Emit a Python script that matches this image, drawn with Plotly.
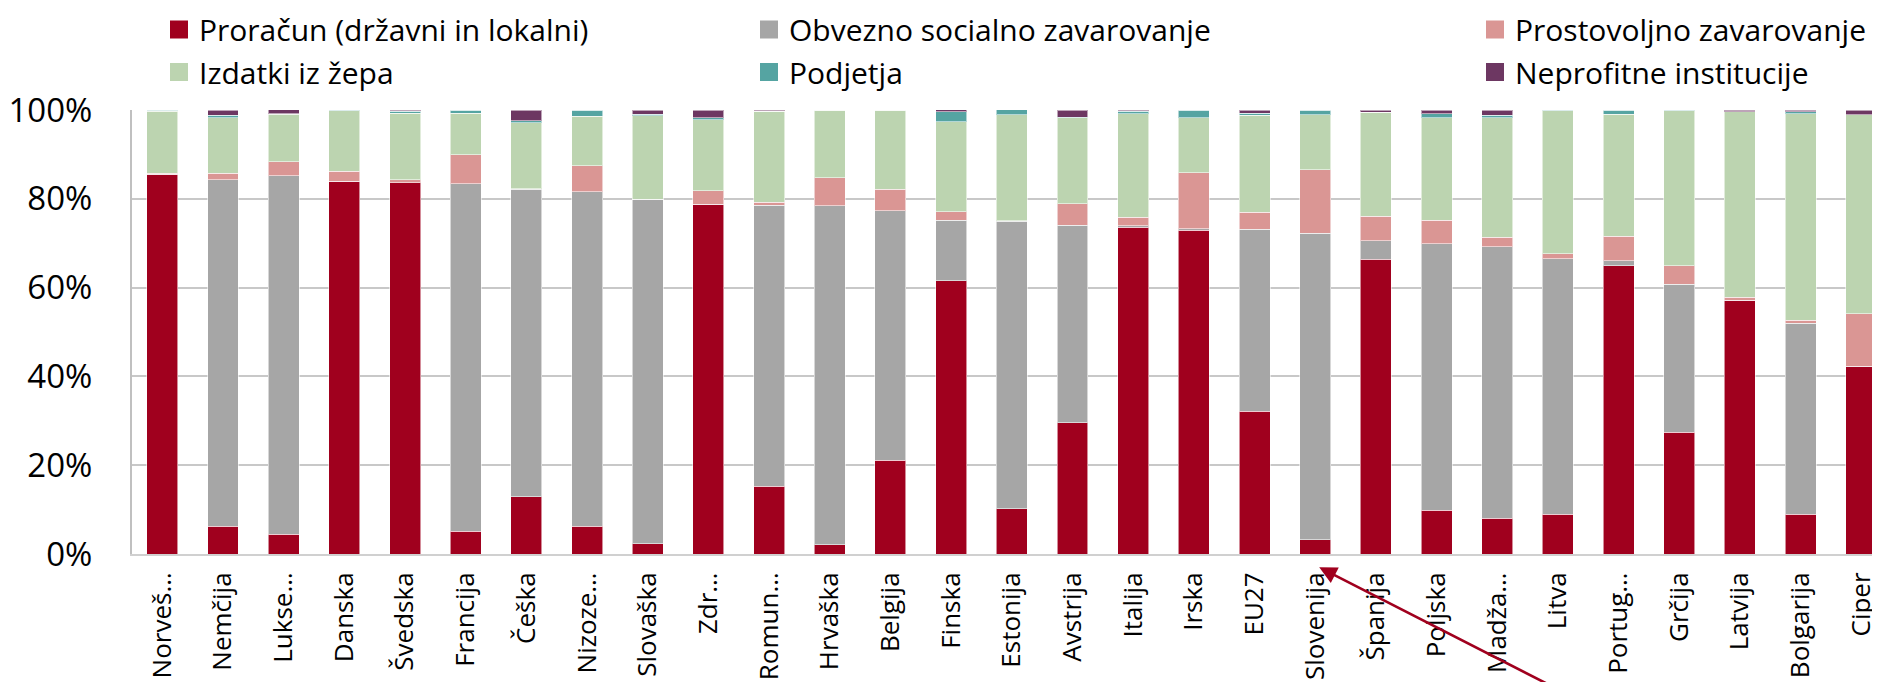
import plotly.graph_objects as go

countries = ["Norveška", "Nemčija", "Luksemburg", "Danska", "Švedska", "Francija", "Češka",
             "Nizozemska", "Slovaška", "Združeno kraljestvo", "Romunija", "Hrvaška", "Belgija",
             "Finska", "Estonija", "Avstrija", "Italija", "Irska", "EU27", "Slovenija", "Španija",
             "Poljska", "Madžarska", "Litva", "Portugalska", "Grčija", "Latvija", "Bolgarija", "Ciper"]

tick_labels = ["Norveš…", "Nemčija", "Lukse…", "Danska", "Švedska", "Francija", "Češka",
               "Nizoze…", "Slovaška", "Zdr…", "Romun…", "Hrvaška", "Belgija",
               "Finska", "Estonija", "Avstrija", "Italija", "Irska", "EU27", "Slovenija", "Španija",
               "Poljska", "Madža…", "Litva", "Portug…", "Grčija", "Latvija", "Bolgarija", "Ciper"]

proracun = [85.5, 6.2, 4.5, 84.0, 83.6, 5.1, 12.9, 6.2, 2.3, 78.8, 15.3, 2.1, 21.1, 61.5, 10.2,
            29.6, 73.6, 72.9, 32.1, 3.2, 66.4, 9.8, 8.0, 8.9, 64.9, 27.4, 57.2, 9.0, 42.3]
obvezno = [0.0, 78.1, 80.7, 0.0, 0.0, 78.3, 69.2, 75.4, 77.6, 0.0, 63.3, 76.3, 56.2, 13.7, 64.7,
           44.4, 0.3, 0.4, 41.0, 69.0, 4.2, 60.1, 61.2, 57.6, 1.2, 33.4, 0.0, 43.0, 0.0]
prostovoljno = [0.2, 1.5, 3.1, 2.2, 0.7, 6.5, 0.2, 5.8, 0.0, 3.0, 0.6, 6.3, 4.9, 1.9, 0.2,
                4.9, 1.9, 12.6, 3.9, 14.3, 5.5, 5.3, 2.1, 1.1, 5.5, 4.1, 0.6, 0.6, 11.8]
izdatki = [14.0, 12.4, 10.8, 13.6, 15.0, 9.4, 14.8, 11.2, 18.8, 16.0, 20.5, 15.3, 17.8, 20.2, 23.8,
           19.3, 23.4, 12.4, 21.8, 12.4, 23.4, 23.0, 26.9, 32.2, 27.5, 34.9, 41.8, 46.6, 44.8]
podjetja = [0.3, 0.6, 0.1, 0.1, 0.4, 0.7, 0.5, 1.4, 0.4, 0.5, 0.0, 0.0, 0.0, 2.3, 1.3,
            0.2, 0.5, 1.7, 0.5, 1.0, 0.0, 1.0, 0.6, 0.2, 0.9, 0.2, 0.0, 0.4, 0.0]
neprofitne = [0.0, 1.2, 0.9, 0.1, 0.3, 0.0, 2.4, 0.0, 0.8, 1.7, 0.3, 0.0, 0.0, 0.5, 0.0,
              1.6, 0.3, 0.0, 0.6, 0.0, 0.5, 0.8, 1.2, 0.0, 0.0, 0.0, 0.4, 0.4, 1.1]

series_names = ["Proračun (državni in lokalni)", "Obvezno socialno zavarovanje",
                "Prostovoljno zavarovanje", "Izdatki iz žepa", "Podjetja", "Neprofitne institucije"]
series_values = [proracun, obvezno, prostovoljno, izdatki, podjetja, neprofitne]
series_colors = ["#A0001E", "#A6A6A6", "#DA9694", "#BCD4B0", "#55A4A2", "#6D3762"]

FONT = "Open Sans"
W, H = 1880, 682
legend_ids = ["legend", "legend2", "legend3", "legend4", "legend5", "legend6"]
legend_px = [(151, 21.5), (741, 21.5), (1467, 21.5), (151, 64), (741, 64), (1467, 64)]

fig = go.Figure()
for i, (name, vals, col, lid) in enumerate(zip(series_names, series_values, series_colors, legend_ids)):
    fig.add_trace(go.Bar(
        x=countries, y=vals, name=name, legendgroup=f"g{i}", showlegend=False,
        marker=dict(color=col, line=dict(color="rgba(255,255,255,0.55)", width=1)),
    ))
    # legend entry (square key) for the same series
    fig.add_trace(go.Scatter(
        x=[None], y=[None], mode="markers", name=name, legendgroup=f"g{i}", legend=lid,
        marker=dict(symbol="square", size=16, color=col, line=dict(color=col, width=2)),
        showlegend=True, hoverinfo="skip",
    ))

legend_layout = {}
for lid, (px, py) in zip(legend_ids, legend_px):
    legend_layout[lid] = dict(
        x=px / W, y=1 - py / H, xref="container", yref="container",
        xanchor="left", yanchor="middle", bgcolor="rgba(0,0,0,0)",
        font=dict(family=FONT, size=30, color="#000000"), traceorder="normal",
        itemsizing="trace",
    )

fig.update_layout(
    barmode="stack",
    bargap=0.49,
    width=W, height=H,
    margin=dict(l=124, r=0, t=102, b=136, autoexpand=False),
    paper_bgcolor="white", plot_bgcolor="white",
    font=dict(family=FONT, color="#000000"),
    showlegend=True,
    **legend_layout,
)

fig.update_xaxes(
    categoryorder="array", categoryarray=countries,
    tickmode="array", tickvals=countries, ticktext=tick_labels,
    tickangle=-90, tickfont=dict(family=FONT, size=26, color="#000000"),
    range=[-0.5, 28.44], showgrid=False, showline=True, linecolor="#D0D0D0", linewidth=2,
    ticks="", automargin=False, ticklabelstandoff=6,
)
fig.update_yaxes(
    range=[0, 100], dtick=20, ticksuffix="%", tickfont=dict(family=FONT, size=33, color="#000000"),
    showgrid=True, gridcolor="#C8C8C8", gridwidth=2, zeroline=False,
    showline=True, linecolor="#C0C0C0", linewidth=2, ticks="", automargin=False,
    ticklabelstandoff=31,
)

fig.add_annotation(
    x="Slovenija", xref="x", y=-0.03, yref="paper", xshift=4,
    text="", showarrow=True, arrowhead=2, arrowsize=1.4, arrowwidth=2.5,
    arrowcolor="#A0001E", ax=240, ay=125, standoff=0,
)

fig.write_html("out.html")
